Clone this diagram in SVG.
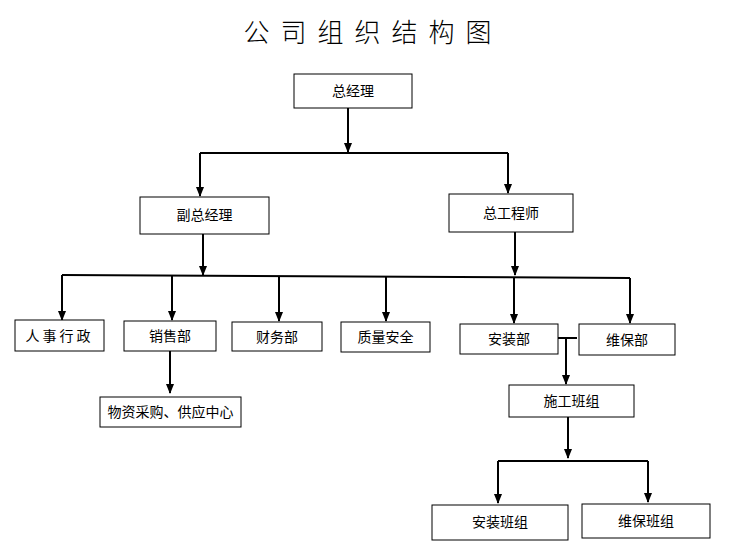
<svg xmlns="http://www.w3.org/2000/svg" width="736" height="552" viewBox="0 0 736 552">
<defs>
<marker id="ar" markerWidth="10" markerHeight="10" refX="5" refY="8" orient="auto" markerUnits="userSpaceOnUse" viewBox="0 0 10 10">
<path d="M5,10 L1,0 L9,0 Z" fill="#000" transform="rotate(-90 5 5)"/>
</marker>
<marker id="a" markerWidth="10" markerHeight="10" refX="9" refY="5" orient="auto" markerUnits="userSpaceOnUse">
<path d="M0,1 L10,5 L0,9 Z" fill="#000"/>
</marker>
</defs>
<style>
.b{fill:#fff;stroke:#000;stroke-width:1}
.t{font-family:"Noto Sans CJK SC",sans-serif;font-size:14px;text-anchor:middle;fill:#000}
.c{stroke:#000;stroke-width:2;fill:none}
.c .ar{marker-end:url(#a)}
</style>
<rect width="736" height="552" fill="#fff"/>
<text x="373" y="42" font-family="Noto Sans CJK SC,sans-serif" font-size="26" font-weight="300" text-anchor="middle" letter-spacing="11">公司组织结构图</text>
<g id="connectors" class="c">
<path class="ar" d="M348,108 V152"/>
<path d="M200,153 H508"/>
<path class="ar" d="M200,153 V196"/>
<path class="ar" d="M508,153 V193"/>
<path class="ar" d="M203,234 V275"/>
<path class="ar" d="M515,232 V275"/>
<path d="M62,275 L630,278"/>
<path class="ar" d="M62,275 V320"/>
<path class="ar" d="M172,276 V320"/>
<path class="ar" d="M279,276 V321"/>
<path class="ar" d="M386,277 V321"/>
<path class="ar" d="M514,277 V323"/>
<path class="ar" d="M630,278 V323"/>
<path class="ar" d="M170,351 V393"/>
<path d="M558,338 H577"/>
<path class="ar" d="M566,338 V384"/>
<path class="ar" d="M568,417 V458"/>
<path d="M498,461 H648"/>
<path class="ar" d="M498,461 V503"/>
<path class="ar" d="M648,461 V502"/>
</g>
<g id="n1"><rect class="b" x="294" y="74" width="118" height="34"/><text class="t" x="353" y="96">总经理</text></g>
<g id="n2"><rect class="b" x="140" y="197" width="129" height="37"/><text class="t" x="204.5" y="220">副总经理</text></g>
<g id="n3"><rect class="b" x="449" y="194" width="124" height="38"/><text class="t" x="511" y="218">总工程师</text></g>
<g id="n4"><rect class="b" x="15" y="320" width="89" height="31"/><text class="t" x="59.5" y="341" letter-spacing="3">人事行政</text></g>
<g id="n5"><rect class="b" x="124" y="321" width="92" height="30"/><text class="t" x="170" y="341">销售部</text></g>
<g id="n6"><rect class="b" x="232" y="322" width="90" height="29"/><text class="t" x="277" y="342">财务部</text></g>
<g id="n7"><rect class="b" x="341" y="322" width="89" height="30"/><text class="t" x="385.5" y="342">质量安全</text></g>
<g id="n8"><rect class="b" x="460" y="324" width="98" height="30"/><text class="t" x="509" y="344">安装部</text></g>
<g id="n9"><rect class="b" x="579" y="324" width="96" height="31"/><text class="t" x="627" y="345">维保部</text></g>
<g id="n10"><rect class="b" x="100" y="397" width="141" height="30"/><text class="t" x="170.5" y="417">物资采购、供应中心</text></g>
<g id="n11"><rect class="b" x="509" y="385" width="125" height="32"/><text class="t" x="571.5" y="406">施工班组</text></g>
<g id="n12"><rect class="b" x="432" y="505" width="136" height="35"/><text class="t" x="500" y="527">安装班组</text></g>
<g id="n13"><rect class="b" x="582" y="504" width="128" height="34"/><text class="t" x="646" y="526">维保班组</text></g>
</svg>
